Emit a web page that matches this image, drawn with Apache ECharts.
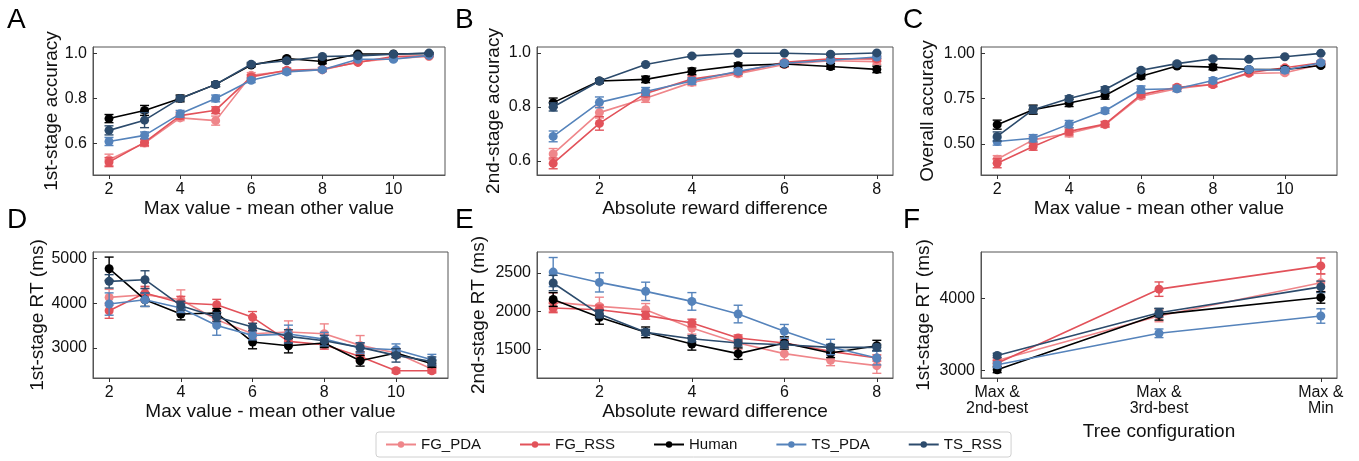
<!DOCTYPE html>
<html>
<head>
<meta charset="utf-8">
<script src="https://cdn.jsdelivr.net/npm/echarts@6/dist/echarts.min.js"></script>
<style>
  html, body { margin: 0; padding: 0; background: #fff; }
  #chart { width: 1359px; height: 461px; }
</style>
</head>
<body>
<div id="chart"></div>
<script>
// model names, drawing order = legend order
const models = ['FG_PDA', 'FG_RSS', 'Human', 'TS_PDA', 'TS_RSS'];
const colors = ['#ef868a', '#e2525a', '#000000', '#5583bb', '#2c4b6c'];

// x values
const xValue = [2, 3, 4, 5, 6, 7, 8, 9, 10, 11];
const xReward = [1, 2, 3, 4, 5, 6, 7, 8];
const xTree = [0, 1, 2];
const treeLabels = ['Max &\n2nd-best', 'Max &\n3rd-best', 'Max &\nMin'];

// A: 1st-stage accuracy
const A_FG_PDA = [0.529, 0.603, 0.714, 0.702, 0.902, 0.921, 0.926, 0.961, 0.976, 0.985];
const A_FG_PDA_err = [0.025, 0.015, 0.012, 0.02, 0.012, 0.01, 0.008, 0.006, 0.005, 0.004];
const A_FG_RSS = [0.519, 0.606, 0.724, 0.748, 0.895, 0.924, 0.929, 0.959, 0.985, 0.988];
const A_FG_RSS_err = [0.02, 0.015, 0.015, 0.015, 0.01, 0.01, 0.008, 0.005, 0.005, 0.004];
const A_Human = [0.711, 0.747, 0.80, 0.862, 0.947, 0.976, 0.963, 0.996, 0.996, 0.998];
const A_Human_err = [0.018, 0.022, 0.015, 0.01, 0.008, 0.006, 0.01, 0.004, 0.004, 0.004];
const A_TS_PDA = [0.610, 0.637, 0.732, 0.80, 0.88, 0.917, 0.927, 0.973, 0.973, 0.99];
const A_TS_PDA_err = [0.018, 0.015, 0.015, 0.015, 0.01, 0.01, 0.008, 0.005, 0.006, 0.004];
const A_TS_RSS = [0.659, 0.704, 0.80, 0.862, 0.951, 0.966, 0.985, 0.988, 0.995, 1.0];
const A_TS_RSS_err = [0.02, 0.033, 0.01, 0.01, 0.008, 0.008, 0.005, 0.005, 0.005, 0.004];

// B: 2nd-stage accuracy
const B_FG_PDA = [0.626, 0.779, 0.832, 0.891, 0.923, 0.957, 0.971, 0.968];
const B_FG_PDA_err = [0.02, 0.02, 0.015, 0.012, 0.01, 0.01, 0.008, 0.01];
const B_FG_RSS = [0.591, 0.739, 0.85, 0.903, 0.928, 0.965, 0.978, 0.978];
const B_FG_RSS_err = [0.02, 0.025, 0.012, 0.012, 0.008, 0.006, 0.005, 0.008];
const B_Human = [0.816, 0.896, 0.902, 0.932, 0.953, 0.959, 0.950, 0.939];
const B_Human_err = [0.017, 0.008, 0.012, 0.012, 0.01, 0.008, 0.01, 0.012];
const B_TS_PDA = [0.691, 0.817, 0.857, 0.896, 0.932, 0.962, 0.973, 0.985];
const B_TS_PDA_err = [0.02, 0.02, 0.015, 0.012, 0.01, 0.008, 0.006, 0.005];
const B_TS_RSS = [0.80, 0.896, 0.957, 0.989, 0.999, 0.999, 0.995, 1.0];
const B_TS_RSS_err = [0.015, 0.006, 0.004, 0.004, 0.003, 0.003, 0.004, 0.003];

// C: overall accuracy
const C_FG_PDA = [0.415, 0.522, 0.559, 0.606, 0.763, 0.804, 0.828, 0.889, 0.893, 0.939];
const C_FG_PDA_err = [0.02, 0.02, 0.02, 0.015, 0.015, 0.012, 0.012, 0.01, 0.01, 0.008];
const C_FG_RSS = [0.393, 0.485, 0.569, 0.609, 0.772, 0.813, 0.828, 0.893, 0.920, 0.948];
const C_FG_RSS_err = [0.025, 0.02, 0.02, 0.015, 0.015, 0.012, 0.012, 0.01, 0.01, 0.008];
const C_Human = [0.606, 0.689, 0.726, 0.767, 0.874, 0.930, 0.924, 0.911, 0.911, 0.933];
const C_Human_err = [0.025, 0.025, 0.02, 0.02, 0.015, 0.01, 0.015, 0.008, 0.008, 0.008];
const C_TS_PDA = [0.513, 0.531, 0.609, 0.683, 0.80, 0.804, 0.85, 0.911, 0.907, 0.948];
const C_TS_PDA_err = [0.02, 0.02, 0.02, 0.015, 0.02, 0.015, 0.015, 0.01, 0.015, 0.01];
const C_TS_RSS = [0.541, 0.689, 0.75, 0.80, 0.907, 0.943, 0.970, 0.967, 0.981, 1.0];
const C_TS_RSS_err = [0.025, 0.02, 0.015, 0.015, 0.01, 0.008, 0.008, 0.006, 0.006, 0.004];

// D: 1st-stage RT
const D_FG_PDA = [4134, 4194, 4082, 3634, 3321, 3358, 3321, 3060, 2888, 2530];
const D_FG_PDA_err = [180, 150, 220, 100, 100, 250, 220, 220, 100, 60];
const D_FG_RSS = [3836, 4231, 4007, 3970, 3687, 3149, 3075, 2813, 2493, 2493];
const D_FG_RSS_err = [170, 150, 150, 120, 130, 100, 100, 100, 50, 50];
const D_Human = [4776, 4082, 3761, 3784, 3134, 3052, 3112, 2716, 2888, 2649];
const D_Human_err = [260, 150, 130, 100, 150, 160, 100, 120, 100, 80];
const D_TS_PDA = [3985, 4082, 3896, 3507, 3284, 3313, 3201, 3000, 2963, 2739];
const D_TS_PDA_err = [250, 150, 100, 220, 100, 200, 150, 120, 130, 120];
const D_TS_RSS = [4493, 4530, 3948, 3694, 3470, 3261, 3164, 3015, 2836, 2701];
const D_TS_RSS_err = [150, 200, 100, 100, 80, 150, 120, 100, 150, 100];

// E: 2nd-stage RT
const E_FG_PDA = [2120, 2065, 2022, 1783, 1587, 1448, 1361, 1291];
const E_FG_PDA_err = [120, 120, 80, 80, 80, 80, 70, 100];
const E_FG_RSS = [2043, 2022, 1948, 1848, 1652, 1587, 1478, 1391];
const E_FG_RSS_err = [60, 60, 50, 50, 40, 40, 40, 40];
const E_Human = [2155, 1922, 1726, 1574, 1448, 1587, 1457, 1552];
const E_Human_err = [90, 90, 70, 80, 75, 80, 60, 70];
const E_TS_PDA = [2513, 2378, 2261, 2130, 1965, 1739, 1535, 1391];
const E_TS_PDA_err = [190, 125, 120, 115, 115, 90, 100, 90];
const E_TS_RSS = [2370, 1965, 1726, 1643, 1587, 1565, 1530, 1530];
const E_TS_RSS_err = [100, 50, 40, 40, 40, 40, 40, 40];

// F: 1st-stage RT by tree configuration
const F_FG_PDA = [3138, 3756, 4217];
const F_FG_PDA_err = [40, 80, 120];
const F_FG_RSS = [3101, 4129, 4452];
const F_FG_RSS_err = [40, 100, 110];
const F_Human = [3009, 3779, 4014];
const F_Human_err = [40, 80, 80];
const F_TS_PDA = [3078, 3516, 3756];
const F_TS_PDA_err = [40, 60, 100];
const F_TS_RSS = [3207, 3802, 4161];
const F_TS_RSS_err = [30, 60, 80];

const FONT = "'Liberation Sans', Arial, sans-serif";

const panels = [
  { letter: 'A', x: xValue, means: [A_FG_PDA, A_FG_RSS, A_Human, A_TS_PDA, A_TS_RSS],
    errs: [A_FG_PDA_err, A_FG_RSS_err, A_Human_err, A_TS_PDA_err, A_TS_RSS_err],
    grid: { left: 93, top: 47, width: 352, height: 128 },
    xMin: 1.55, xMax: 11.45, xTicks: [2, 4, 6, 8, 10], xName: 'Max value - mean other value', xGap: 23,
    yMin: 0.462, yMax: 1.027, yTicks: [0.6, 0.8, 1.0], yFmt: v => v.toFixed(1), yName: '1st-stage accuracy', yGap: 31 },
  { letter: 'B', x: xReward, means: [B_FG_PDA, B_FG_RSS, B_Human, B_TS_PDA, B_TS_RSS],
    errs: [B_FG_PDA_err, B_FG_RSS_err, B_Human_err, B_TS_PDA_err, B_TS_RSS_err],
    grid: { left: 537, top: 47, width: 356, height: 128 },
    xMin: 0.65, xMax: 8.35, xTicks: [2, 4, 6, 8], xName: 'Absolute reward difference', xGap: 23,
    yMin: 0.548, yMax: 1.022, yTicks: [0.6, 0.8, 1.0], yFmt: v => v.toFixed(1), yName: '2nd-stage accuracy', yGap: 34 },
  { letter: 'C', x: xValue, means: [C_FG_PDA, C_FG_RSS, C_Human, C_TS_PDA, C_TS_RSS],
    errs: [C_FG_PDA_err, C_FG_RSS_err, C_Human_err, C_TS_PDA_err, C_TS_RSS_err],
    grid: { left: 981, top: 47, width: 356, height: 128 },
    xMin: 1.55, xMax: 11.45, xTicks: [2, 4, 6, 8, 10], xName: 'Max value - mean other value', xGap: 23,
    yMin: 0.328, yMax: 1.035, yTicks: [0.5, 0.75, 1.0], yFmt: v => v.toFixed(2), yName: 'Overall accuracy', yGap: 44 },
  { letter: 'D', x: xValue, means: [D_FG_PDA, D_FG_RSS, D_Human, D_TS_PDA, D_TS_RSS],
    errs: [D_FG_PDA_err, D_FG_RSS_err, D_Human_err, D_TS_PDA_err, D_TS_RSS_err],
    grid: { left: 93, top: 252, width: 355, height: 126 },
    xMin: 1.55, xMax: 11.45, xTicks: [2, 4, 6, 8, 10], xName: 'Max value - mean other value', xGap: 23,
    yMin: 2330, yMax: 5150, yTicks: [3000, 4000, 5000], yFmt: v => String(v), yName: '1st-stage RT (ms)', yGap: 46 },
  { letter: 'E', x: xReward, means: [E_FG_PDA, E_FG_RSS, E_Human, E_TS_PDA, E_TS_RSS],
    errs: [E_FG_PDA_err, E_FG_RSS_err, E_Human_err, E_TS_PDA_err, E_TS_RSS_err],
    grid: { left: 537, top: 252, width: 356, height: 126 },
    xMin: 0.65, xMax: 8.35, xTicks: [2, 4, 6, 8], xName: 'Absolute reward difference', xGap: 23,
    yMin: 1130, yMax: 2775, yTicks: [1500, 2000, 2500], yFmt: v => String(v), yName: '2nd-stage RT (ms)', yGap: 49 },
  { letter: 'F', x: xTree, means: [F_FG_PDA, F_FG_RSS, F_Human, F_TS_PDA, F_TS_RSS],
    errs: [F_FG_PDA_err, F_FG_RSS_err, F_Human_err, F_TS_PDA_err, F_TS_RSS_err],
    grid: { left: 981, top: 252, width: 356, height: 126 },
    xMin: -0.1, xMax: 2.1, xTicks: [0, 1, 2], xLabels: treeLabels, xName: 'Tree configuration', xGap: 44,
    yMin: 2895, yMax: 4645, yTicks: [3000, 4000], yFmt: v => String(v), yName: '1st-stage RT (ms)', yGap: 48 },
];

const letterPos = [[7, 6], [455, 6], [903, 6], [7, 206], [455, 206], [903, 206]];

function errorSeries(idx, x, ys, es, color, z) {
  return {
    type: 'custom',
    name: 'err',
    xAxisIndex: idx,
    yAxisIndex: idx,
    z: z,
    silent: true,
    animation: false,
    data: x.map((xv, i) => [xv, ys[i] - es[i], ys[i] + es[i]]),
    encode: { x: 0, y: [1, 2] },
    renderItem: (params, api) => {
      const lo = api.coord([api.value(0), api.value(1)]);
      const hi = api.coord([api.value(0), api.value(2)]);
      const w = 4.5;
      const style = { stroke: color, lineWidth: 1.4 };
      return {
        type: 'group',
        children: [
          { type: 'line', shape: { x1: lo[0], y1: lo[1], x2: hi[0], y2: hi[1] }, style },
          { type: 'line', shape: { x1: lo[0] - w, y1: lo[1], x2: lo[0] + w, y2: lo[1] }, style },
          { type: 'line', shape: { x1: hi[0] - w, y1: hi[1], x2: hi[0] + w, y2: hi[1] }, style },
        ],
      };
    },
  };
}

const grids = [], xAxes = [], yAxes = [], series = [];
panels.forEach((p, idx) => {
  grids.push(Object.assign({ show: true, borderColor: '#555', borderWidth: 1, containLabel: false }, p.grid));
  xAxes.push({
    type: 'value', gridIndex: idx, min: p.xMin, max: p.xMax,
    name: p.xName, nameLocation: 'middle', nameGap: p.xGap,
    nameTextStyle: { fontSize: 19, color: '#111', fontFamily: FONT },
    axisLine: { show: true, onZero: false, lineStyle: { color: '#555' } },
    axisTick: { show: true, inside: false, length: 4, lineStyle: { color: '#333' }, customValues: p.xTicks },
    axisLabel: {
      fontSize: 16, color: '#111', fontFamily: FONT, margin: 7, lineHeight: 16,
      customValues: p.xTicks,
      formatter: v => p.xLabels ? p.xLabels[Math.round(v)] : String(v),
    },
    splitLine: { show: false },
  });
  yAxes.push({
    type: 'value', gridIndex: idx, min: p.yMin, max: p.yMax,
    name: p.yName, nameLocation: 'middle', nameGap: p.yGap, nameRotate: 90,
    nameTextStyle: { fontSize: 19, color: '#111', fontFamily: FONT },
    axisLine: { show: true, onZero: false, lineStyle: { color: '#555' } },
    axisTick: { show: true, inside: true, length: 4, lineStyle: { color: '#333' }, customValues: p.yTicks },
    axisLabel: { fontSize: 16, color: '#111', fontFamily: FONT, margin: 6, customValues: p.yTicks, formatter: p.yFmt },
    splitLine: { show: false },
  });
  models.forEach((m, k) => {
    const z = 2 + k;
    series.push(errorSeries(idx, p.x, p.means[k], p.errs[k], colors[k], z));
    series.push({
      type: 'line', name: m, xAxisIndex: idx, yAxisIndex: idx, z: z,
      data: p.x.map((xv, i) => [xv, p.means[k][i]]),
      symbol: 'circle', symbolSize: 9, showSymbol: true,
      lineStyle: { color: colors[k], width: 1.6 },
      itemStyle: { color: colors[k] },
      animation: false,
    });
  });
});

const chart = echarts.init(document.getElementById('chart'));
chart.setOption({
  backgroundColor: '#fff',
  animation: false,
  textStyle: { fontFamily: FONT },
  grid: grids,
  xAxis: xAxes,
  yAxis: yAxes,
  series: series,
  legend: {
    data: models,
    left: 376, top: 432,
    itemWidth: 30, itemHeight: 8, itemGap: 38,
    padding: [5, 9],
    borderColor: '#d0d0d0', borderWidth: 1, borderRadius: 3,
    textStyle: { fontSize: 15, color: '#111', fontFamily: FONT },
  },
  graphic: panels.map((p, i) => ({
    type: 'text', left: letterPos[i][0], top: letterPos[i][1],
    style: { text: p.letter, fontSize: 28, fill: '#000', fontFamily: FONT },
  })),
});
</script>
</body>
</html>
